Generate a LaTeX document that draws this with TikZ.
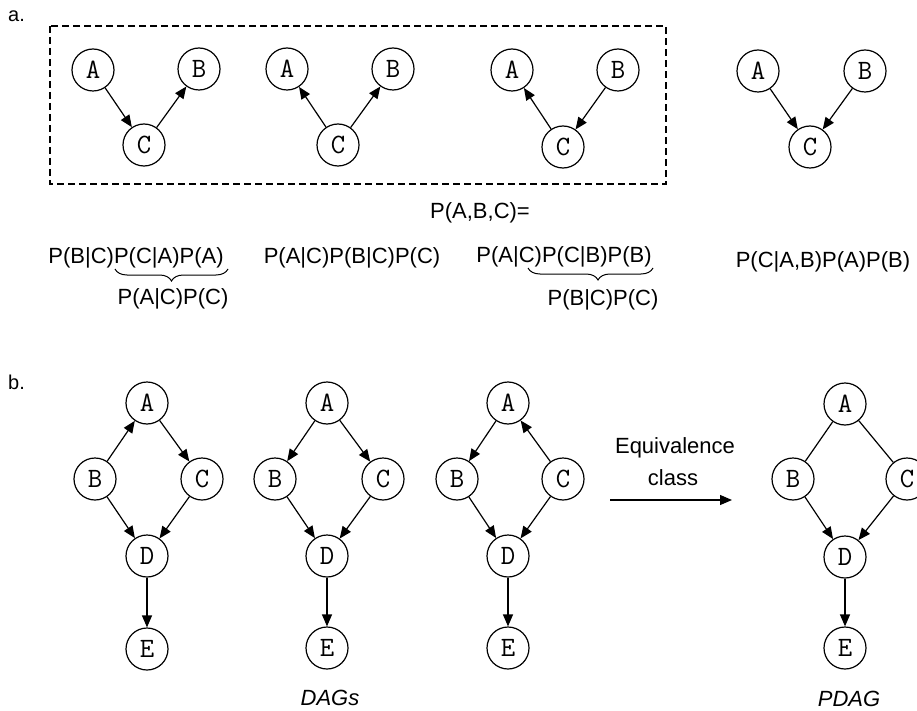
\documentclass[tikz,border=0pt]{standalone}
\usepackage{fontspec}
\setmainfont{Liberation Sans}
\usetikzlibrary{arrows.meta,decorations.pathreplacing}
\begin{document}
\begin{tikzpicture}[x=1pt,y=-1pt,
  var/.style={circle,draw,line width=1.2pt,minimum size=42pt,inner sep=0pt,
    font=\ttfamily\fontsize{28}{28}\selectfont},
  edge/.style={line width=1.2pt,-{Triangle[length=12pt,width=10pt]}},
  link/.style={line width=1.2pt},
  lbl/.style={inner sep=0pt,font=\fontsize{22}{26}\selectfont},
  tag/.style={inner sep=0pt,anchor=base west,font=\fontsize{20}{24}\selectfont},
  ital/.style={lbl,font=\fontsize{22}{26}\selectfont\itshape},
  curly/.style={line width=1pt,decorate,decoration={brace,mirror,amplitude=12pt}},
  group/.style={line width=1.2pt,dash pattern=on 7pt off 4pt}]
\useasboundingbox (0,0) rectangle (917,711);
\clip (0,0) rectangle (917,711);

% ---------- part a ----------
\node[tag] (taga) at (8,22) {a.};
\draw[group] (50,26) rectangle (666,184);

% chain A -> C -> B
\node[var] (a1A) at (93,70) {A};
\node[var] (a1B) at (199,69) {B};
\node[var] (a1C) at (144,145) {C};
\draw[edge] (a1A) -- (a1C);
\draw[edge] (a1C) -- (a1B);

% fork A <- C -> B
\node[var] (a2A) at (287,69) {A};
\node[var] (a2B) at (393,69) {B};
\node[var] (a2C) at (338,145) {C};
\draw[edge] (a2C) -- (a2A);
\draw[edge] (a2C) -- (a2B);

% chain B -> C -> A
\node[var] (a3A) at (512,70) {A};
\node[var] (a3B) at (618,70) {B};
\node[var] (a3C) at (563,147) {C};
\draw[edge] (a3C) -- (a3A);
\draw[edge] (a3B) -- (a3C);

% collider A -> C <- B
\node[var] (a4A) at (758,71) {A};
\node[var] (a4B) at (865,71) {B};
\node[var] (a4C) at (810,147) {C};
\draw[edge] (a4A) -- (a4C);
\draw[edge] (a4B) -- (a4C);

% factorisations
\node[lbl] (joint) at (480,213) {P(A,B,C)=};
\node[lbl] (f1) at (136,258) {P(B|C)P(C|A)P(A)};
\node[lbl] (f2) at (352,258) {P(A|C)P(B|C)P(C)};
\node[lbl] (f3) at (564,257) {P(A|C)P(C|B)P(B)};
\node[lbl] (f4) at (823,262) {P(C|A,B)P(A)P(B)};
\node[lbl] (f1b) at (173,299) {P(A|C)P(C)};
\node[lbl] (f3b) at (603,300) {P(B|C)P(C)};

\coordinate (br1s) at (115,269);
\coordinate (br1e) at (228,269);
\draw[curly] (br1s) -- (br1e);
\coordinate (br3s) at (528,268);
\coordinate (br3e) at (653,268);
\draw[curly,decoration={aspect=0.56}] (br3s) -- (br3e);

% ---------- part b ----------
\node[tag] (tagb) at (8,389) {b.};

\node[var] (b1A) at (147,403) {A};
\node[var] (b1B) at (95,479) {B};
\node[var] (b1C) at (202,479) {C};
\node[var] (b1D) at (147,556) {D};
\node[var] (b1E) at (147,649) {E};
\draw[edge] (b1B) -- (b1A);
\draw[edge] (b1A) -- (b1C);
\draw[edge] (b1B) -- (b1D);
\draw[edge] (b1C) -- (b1D);
\draw[edge] (b1D) -- (b1E);

\node[var] (b2A) at (327,403) {A};
\node[var] (b2B) at (275,479) {B};
\node[var] (b2C) at (383,479) {C};
\node[var] (b2D) at (327,556) {D};
\node[var] (b2E) at (327,648) {E};
\draw[edge] (b2A) -- (b2B);
\draw[edge] (b2A) -- (b2C);
\draw[edge] (b2B) -- (b2D);
\draw[edge] (b2C) -- (b2D);
\draw[edge] (b2D) -- (b2E);

\node[var] (b3A) at (508,403) {A};
\node[var] (b3B) at (457,479) {B};
\node[var] (b3C) at (563,479) {C};
\node[var] (b3D) at (508,556) {D};
\node[var] (b3E) at (508,648) {E};
\draw[edge] (b3A) -- (b3B);
\draw[edge] (b3C) -- (b3A);
\draw[edge] (b3B) -- (b3D);
\draw[edge] (b3C) -- (b3D);
\draw[edge] (b3D) -- (b3E);

\node[ital] (dags) at (330,698) {DAGs};

% equivalence class arrow
\node[lbl] (eqv) at (675,448) {Equivalence};
\node[lbl] (cls) at (673,478) {class};
\coordinate (eqs) at (610,500);
\coordinate (eqe) at (732,500);
\draw[line width=1.2pt,-{Triangle[length=12pt,width=10pt]}] (eqs) -- (eqe);

% partially directed graph
\node[var] (b4A) at (845,404) {A};
\node[var] (b4B) at (793,479) {B};
\node[var] (b4C) at (907,479) {C};
\node[var] (b4D) at (845,557) {D};
\node[var] (b4E) at (845,648) {E};
\draw[link] (b4A) -- (b4B);
\draw[link] (b4A) -- (b4C);
\draw[edge] (b4B) -- (b4D);
\draw[edge] (b4C) -- (b4D);
\draw[edge] (b4D) -- (b4E);

\node[ital] (pdag) at (849,699) {PDAG};
\end{tikzpicture}
\end{document}
